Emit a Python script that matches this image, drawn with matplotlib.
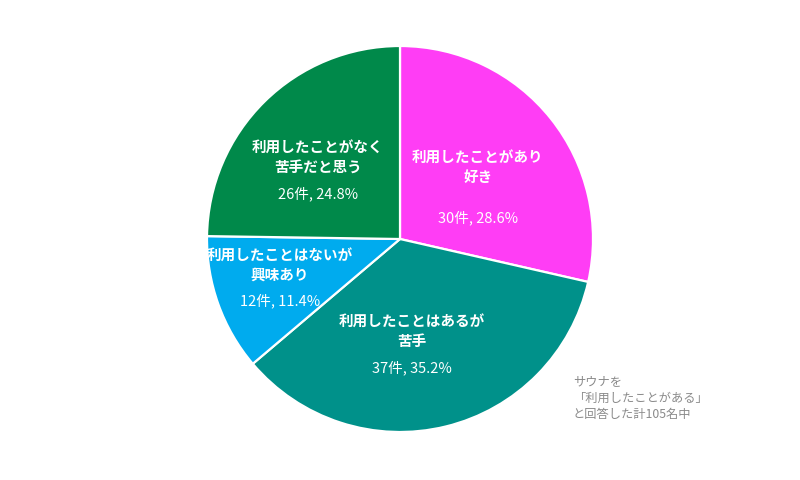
import matplotlib

matplotlib.use('Agg')
import matplotlib.pyplot as plt

plt.rcParams['font.family'] = ['Noto Sans CJK JP', 'DejaVu Sans']

# ---- data ----
labels = ['利用したことがあり\n好き', '利用したことはあるが\n苦手',
          '利用したことはないが\n興味あり', '利用したことがなく\n苦手だと思う']
counts = [30, 37, 12, 26]
percents = [28.6, 35.2, 11.4, 24.8]
colors = ['#FF3DF5', '#00918A', '#00ABEE', '#00894A']
note = 'サウナを\n「利用したことがある」\nと回答した計105名中'

# label positions (pixel offsets from pie centre): title centre, value centre
title_pos = [(78, 73), (12, -91), (-120, -25), (-82, 83)]
value_pos = [(78, 22), (12, -128), (-120, -61), (-82, 46)]

W, H = 800, 481
cx, cy, R = 400, 241, 193

fig = plt.figure(figsize=(W / 100, H / 100), dpi=100)
ax = fig.add_axes([0, 0, 1, 1])

ax.pie(counts, colors=colors, startangle=90, counterclock=False,
       center=(cx, cy), radius=R, frame=True,
       wedgeprops=dict(edgecolor='white', linewidth=1.6))
ax.set_xlim(0, W)
ax.set_ylim(0, H)
ax.axis('off')

for lab, c, p, tp, vp in zip(labels, counts, percents, title_pos, value_pos):
    ax.text(cx + tp[0], cy + tp[1], lab, ha='center', va='center',
            color='white', fontsize=10.5, fontweight='bold', linespacing=1.25)
    ax.text(cx + vp[0], cy + vp[1], '{}件, {}%'.format(c, p), ha='center', va='center',
            color='white', fontsize=10.5)

# note box bottom right
ax.text(573, H - 398, note, ha='left', va='center', color='#8a8a8a',
        fontsize=8.8, linespacing=1.3)

fig.savefig('out.png', dpi=100)
